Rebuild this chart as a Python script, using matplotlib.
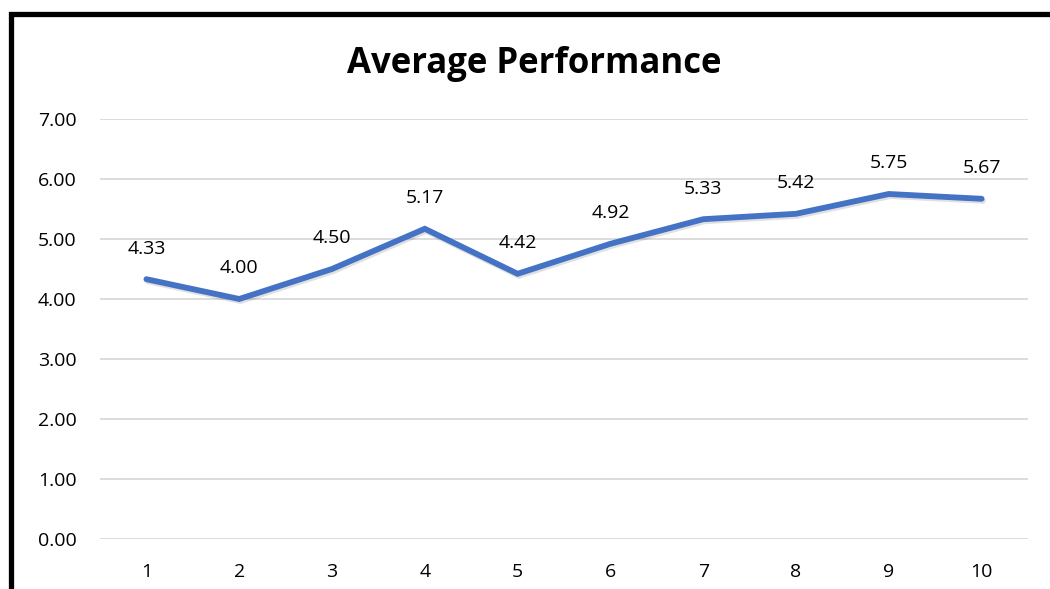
import matplotlib.pyplot as plt
import matplotlib.patheffects as pe
from matplotlib.lines import Line2D

# data
trials = [1, 2, 3, 4, 5, 6, 7, 8, 9, 10]
avg_perf = [4.33, 4.00, 4.50, 5.17, 4.42, 4.92, 5.33, 5.42, 5.75, 5.67]
y_ticks = [0, 1, 2, 3, 4, 5, 6, 7]

plt.rcParams['font.family'] = ['Open Sans', 'DejaVu Sans']

W, H = 1050, 589
fig = plt.figure(figsize=(W / 100, H / 100), dpi=100)
ax = fig.add_axes([100 / W, 50 / H, 928 / W, 420 / H])

ax.plot(trials, avg_perf, color='#4472C4', lw=4.2, solid_capstyle='round',
        solid_joinstyle='miter',
        path_effects=[pe.SimpleLineShadow(offset=(1, -1.5), alpha=0.12, shadow_color='black'),
                      pe.Normal()], zorder=3)

for x, y in zip(trials, avg_perf):
    ax.annotate(f'{y:.2f}', (x, y), xytext=(0, 22), textcoords='offset points',
                ha='center', va='center', fontsize=14, color='black')

ax.set_xlim(0.5, 10.5)
ax.set_ylim(0, 7)
ax.set_xticks(trials)
ax.set_yticks(y_ticks)
ax.set_yticklabels([f'{v:.2f}' for v in y_ticks])
ax.tick_params(length=0, labelsize=14, labelcolor='black')
ax.tick_params(axis='y', pad=17)
ax.tick_params(axis='x', pad=17)
ax.grid(axis='y', color='#D9D9D9', lw=1.3)
ax.set_axisbelow(True)
for s in ax.spines.values():
    s.set_visible(False)

fig.text(534 / W, 1 - 64 / H, 'Average Performance', ha='center', va='center',
         fontsize=25, fontweight='bold')

# border of the chart box (left and top)
fig.add_artist(Line2D([10.5 / W, 10.5 / W, 1], [0, 1 - 14 / H, 1 - 14 / H],
                      transform=fig.transFigure, color='black', lw=3.8,
                      solid_joinstyle='miter'))

fig.savefig('out.png', dpi=100)
